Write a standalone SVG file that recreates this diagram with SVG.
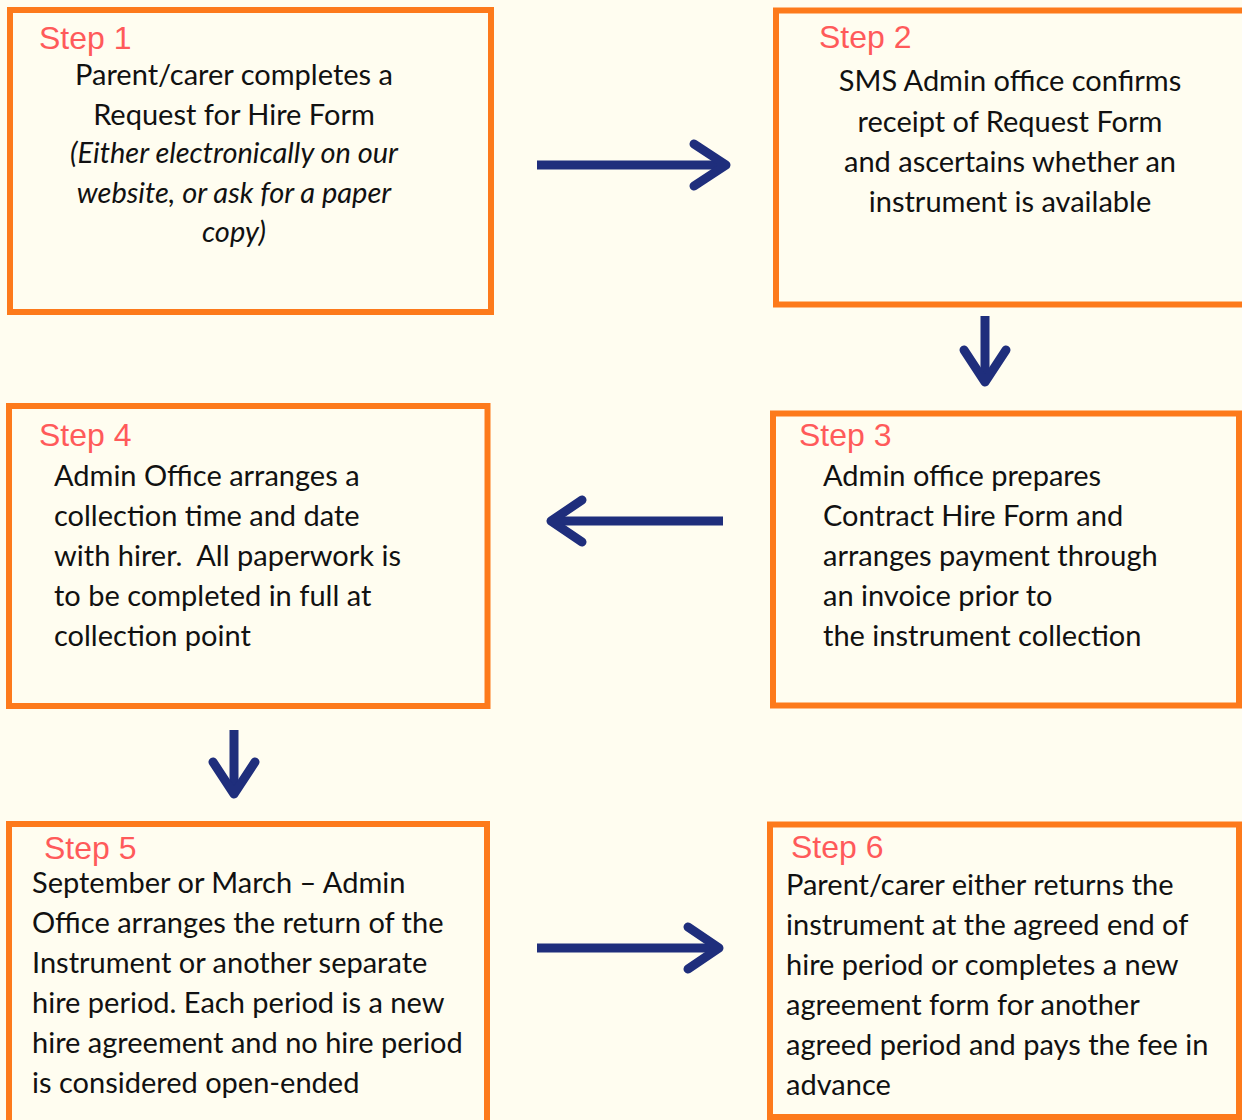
<svg xmlns="http://www.w3.org/2000/svg" width="1242" height="1120" viewBox="0 0 1242 1120">
<style>
.box{fill:#fffdf0;stroke:#fd7a1b;stroke-width:6}
.step{font-family:"Liberation Sans",Arial,sans-serif;font-size:32px;fill:#ff5a5a}
.t{font-family:Lato,"Open Sans",sans-serif;font-size:29px;fill:#111111}
.c{text-anchor:middle}
.i{font-style:italic}
.arr{fill:none;stroke:#1f2e7c;stroke-width:9;stroke-linecap:round;stroke-linejoin:round}
.shaft{fill:none;stroke:#1f2e7c;stroke-width:9}
</style>
<rect width="1242" height="1120" fill="#fffdf0"/>
<g id="step1">
<rect class="box" x="10" y="10" width="481" height="302"/>
<text class="step" x="39" y="49">Step 1</text>
<text class="t c" x="234" y="85">Parent/carer completes a</text>
<text class="t c" x="234" y="125">Request for Hire Form</text>
<text class="t c i" x="234" y="163">(Either electronically on our</text>
<text class="t c i" x="234" y="203">website, or ask for a paper</text>
<text class="t c i" x="234" y="242">copy)</text>
</g>
<g id="step2">
<rect class="box" x="776" y="10.5" width="470" height="294"/>
<text class="step" x="819" y="48">Step 2</text>
<text class="t c" x="1010" y="91">SMS Admin office confirms</text>
<text class="t c" x="1010" y="132">receipt of Request Form</text>
<text class="t c" x="1010" y="172">and ascertains whether an</text>
<text class="t c" x="1010" y="212">instrument is available</text>
</g>
<g id="step3">
<rect class="box" x="773" y="413.5" width="466" height="292"/>
<text class="step" x="799" y="446">Step 3</text>
<text class="t" x="823" y="486">Admin office prepares</text>
<text class="t" x="823" y="526">Contract Hire Form and</text>
<text class="t" x="823" y="566">arranges payment through</text>
<text class="t" x="823" y="606">an invoice prior to</text>
<text class="t" x="823" y="646">the instrument collection</text>
</g>
<g id="step4">
<rect class="box" x="9" y="406" width="478.5" height="300"/>
<text class="step" x="39" y="446">Step 4</text>
<text class="t" x="54" y="486">Admin Office arranges a</text>
<text class="t" x="54" y="526">collection time and date</text>
<text class="t" x="54" y="566" style="white-space:pre">with hirer.  All paperwork is</text>
<text class="t" x="54" y="606">to be completed in full at</text>
<text class="t" x="54" y="646">collection point</text>
</g>
<g id="step5">
<rect class="box" x="9" y="824" width="478" height="310"/>
<text class="step" x="44" y="859">Step 5</text>
<text class="t" x="32" y="893">September or March – Admin</text>
<text class="t" x="32" y="933">Office arranges the return of the</text>
<text class="t" x="32" y="973">Instrument or another separate</text>
<text class="t" x="32" y="1013">hire period. Each period is a new</text>
<text class="t" x="32" y="1053">hire agreement and no hire period</text>
<text class="t" x="32" y="1093">is considered open-ended</text>
</g>
<g id="step6">
<rect class="box" x="770" y="824.5" width="469" height="292.5"/>
<text class="step" x="791" y="858">Step 6</text>
<text class="t" x="786" y="895">Parent/carer either returns the</text>
<text class="t" x="786" y="935">instrument at the agreed end of</text>
<text class="t" x="786" y="975">hire period or completes a new</text>
<text class="t" x="786" y="1015">agreement form for another</text>
<text class="t" x="786" y="1055">agreed period and pays the fee in</text>
<text class="t" x="786" y="1095">advance</text>
</g>
<g id="connectors">
<path class="shaft" d="M537 165H724"/>
<path class="arr" d="M694 144L726 165L694 186"/>
<path class="shaft" d="M985 316V380"/>
<path class="arr" d="M964 350L985 382L1006 350"/>
<path class="shaft" d="M723 521H553"/>
<path class="arr" d="M582 500L551 521L582 542"/>
<path class="shaft" d="M234 730V792"/>
<path class="arr" d="M213 762L234 794L255 762"/>
<path class="shaft" d="M537 948H718"/>
<path class="arr" d="M688 927L719 948L688 969"/>
</g>
</svg>
